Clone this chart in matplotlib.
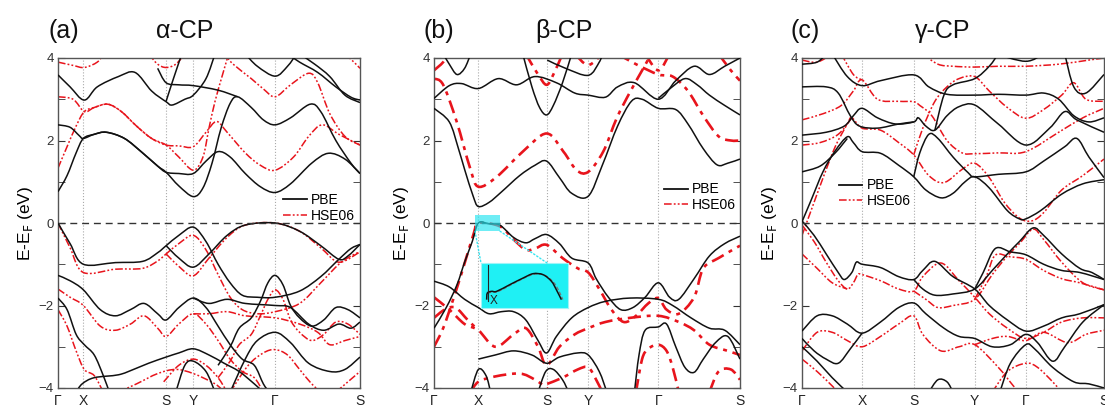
import numpy as np
import matplotlib.pyplot as plt
from matplotlib.patches import Rectangle, ConnectionPatch, PathPatch
from matplotlib.path import Path
from matplotlib.lines import Line2D

plt.rcParams['font.family'] = ['Liberation Sans', 'DejaVu Sans']

# high-symmetry path (fractional distance along the path)
klabels = ['Γ', 'X', 'S', 'Y', 'Γ', 'S']
a_kticks = [0, 0.084, 0.358, 0.448, 0.719, 1.0]
b_kticks = [0, 0.145, 0.368, 0.504, 0.733, 1.0]
c_kticks = [0, 0.199, 0.37, 0.572, 0.741, 1.0]

# ---- alpha-CP ----
a_pbe = [
    [(0, 0.76), (0.03, 1.15), (0.06, 1.7), (0.084, 2.05), (0.12, 2.15), (0.16, 2.2), (0.22, 2.05), (0.28, 1.7),
     (0.33, 1.38), (0.358, 1.23), (0.40, 1.2), (0.448, 1.2), (0.49, 1.5), (0.53, 1.73), (0.57, 1.6), (0.62, 1.2),
     (0.67, 0.88), (0.719, 0.74), (0.77, 0.95), (0.84, 1.45), (0.895, 1.69), (0.95, 1.55), (1.0, 1.2)],
    [(0, 2.38), (0.04, 2.32), (0.07, 2.12), (0.084, 2.05), (0.12, 2.15), (0.16, 2.2), (0.22, 2.05), (0.28, 1.7),
     (0.33, 1.38), (0.358, 1.23), (0.40, 0.9), (0.448, 0.64), (0.48, 0.85), (0.51, 1.45), (0.54, 2.3), (0.57, 2.9),
     (0.595, 3.06), (0.64, 2.8), (0.68, 2.5), (0.719, 2.38), (0.77, 2.55), (0.835, 2.88), (0.87, 2.7), (0.92, 2.0),
     (0.97, 1.45), (1.0, 1.2)],
    [(0, 3.59), (0.04, 3.3), (0.087, 2.98), (0.13, 3.3), (0.2, 3.55), (0.255, 3.65), (0.31, 3.2), (0.358, 2.94),
     (0.378, 2.86), (0.42, 3.0), (0.448, 3.1), (0.49, 3.5), (0.52, 4.1)],
    [(0.358, 2.95), (0.38, 3.45), (0.41, 4.1)],
    [(0.33, 3.75), (0.358, 3.4), (0.40, 3.35), (0.448, 3.33), (0.53, 3.22), (0.595, 3.06)],
    [(0.62, 4.1), (0.66, 3.8), (0.719, 3.56), (0.76, 3.8), (0.79, 4.1)],
    [(0.76, 4.1), (0.8, 3.9), (0.86, 3.65), (0.92, 3.3), (0.97, 3.05), (1.0, 2.98)],
    [(0.8, 4.1), (0.85, 3.85), (0.9, 3.55), (0.95, 3.1), (1.0, 2.92)],
    [(0, 0), (0.04, -0.5), (0.084, -1.0), (0.19, -0.96), (0.28, -0.93), (0.33, -0.72), (0.358, -0.55), (0.40, -0.3),
     (0.448, -0.1), (0.49, -0.45), (0.53, -1.0), (0.57, -1.45), (0.61, -1.75), (0.66, -1.8), (0.719, -1.8),
     (0.8, -1.65), (0.87, -1.3), (0.93, -0.88), (0.97, -0.62), (1.0, -0.52)],
    [(0.358, -0.55), (0.40, -0.85), (0.448, -1.07), (0.50, -0.75), (0.56, -0.3), (0.62, -0.05), (0.719, 0),
     (0.8, -0.2), (0.87, -0.55), (0.93, -0.88), (0.96, -0.8), (1.0, -0.52)],
    [(0, -1.27), (0.04, -1.4), (0.084, -1.62), (0.14, -2.1), (0.19, -2.25), (0.24, -2.1), (0.285, -1.95),
     (0.33, -2.2), (0.358, -2.35), (0.40, -2.05), (0.448, -1.82), (0.49, -2.05), (0.53, -2.5), (0.57, -2.95),
     (0.61, -3.3), (0.65, -3.45), (0.68, -3.9), (0.7, -4.1)],
    [(0.53, -3.45), (0.57, -3.0), (0.6, -2.55), (0.64, -2.3), (0.67, -1.9), (0.695, -1.45), (0.719, -1.27),
     (0.745, -1.5), (0.77, -2.0), (0.8, -2.3), (0.84, -2.5), (0.88, -2.35), (0.92, -2.05), (0.96, -2.1),
     (1.0, -2.3)],
    [(0.448, -1.82), (0.5, -1.95), (0.56, -1.85), (0.62, -1.95), (0.719, -2.0), (0.77, -2.05), (0.83, -2.45),
     (0.88, -2.6), (0.93, -2.45), (0.97, -2.55), (1.0, -2.4)],
    [(0, -1.82), (0.03, -2.1), (0.06, -2.7), (0.087, -2.95), (0.12, -3.2), (0.15, -3.7), (0.17, -4.1)],
    [(0.06, -4.1), (0.08, -3.9), (0.12, -3.75), (0.2, -3.68), (0.25, -3.55), (0.3, -3.4), (0.358, -3.25),
     (0.40, -3.15), (0.448, -3.05), (0.5, -3.2), (0.55, -3.4), (0.6, -3.6), (0.65, -3.9), (0.68, -4.1)],
    [(0.57, -4.1), (0.62, -3.3), (0.66, -2.85), (0.719, -2.65), (0.77, -2.9), (0.83, -3.4), (0.9, -3.6),
     (0.95, -3.55), (1.0, -3.25)],
    [(0.39, -4.1), (0.42, -3.45), (0.448, -3.35), (0.49, -3.6), (0.52, -4.1)],
]
a_hse = [
    [(0, 1.33), (0.03, 1.85), (0.06, 2.35), (0.087, 2.7), (0.12, 2.8), (0.165, 2.88), (0.21, 2.7), (0.26, 2.35),
     (0.31, 2.05), (0.358, 1.89), (0.40, 1.87), (0.448, 1.85), (0.49, 2.2), (0.525, 2.46), (0.56, 2.2), (0.62, 1.7),
     (0.67, 1.4), (0.719, 1.28), (0.78, 1.6), (0.83, 2.1), (0.875, 2.38), (0.93, 2.15), (1.0, 1.89)],
    [(0, 3.06), (0.05, 3.0), (0.087, 2.7), (0.12, 2.8), (0.165, 2.88), (0.21, 2.7), (0.26, 2.35), (0.31, 2.05),
     (0.358, 1.89), (0.40, 1.6), (0.448, 1.28), (0.48, 1.6), (0.5, 2.3), (0.52, 2.95), (0.545, 3.6), (0.565, 4.1)],
    [(0.55, 4.1), (0.58, 3.85), (0.64, 3.5), (0.68, 3.25), (0.719, 3.06), (0.77, 3.35), (0.83, 3.63), (0.86, 3.4),
     (0.9, 2.65), (0.95, 2.1), (1.0, 1.89)],
    [(0, 3.9), (0.05, 3.82), (0.087, 3.77), (0.13, 3.9), (0.15, 4.1)],
    [(0.3, 4.1), (0.33, 3.85), (0.358, 3.77), (0.39, 3.85), (0.42, 4.1)],
    [(0.95, 4.1), (0.98, 3.9), (1.0, 3.75)],
    [(0, 0), (0.04, -0.6), (0.084, -1.2), (0.19, -1.12), (0.28, -1.1), (0.33, -0.92), (0.358, -0.75), (0.40, -0.5),
     (0.448, -0.3), (0.49, -0.65), (0.53, -1.25), (0.57, -1.8), (0.61, -2.1), (0.66, -2.2), (0.719, -2.15),
     (0.8, -1.95), (0.87, -1.45), (0.93, -1.0), (0.97, -0.8), (1.0, -0.7)],
    [(0.358, -0.75), (0.40, -1.05), (0.448, -1.28), (0.50, -0.85), (0.56, -0.35), (0.62, -0.05), (0.719, 0),
     (0.8, -0.2), (0.87, -0.6), (0.93, -0.95), (1.0, -0.7)],
    [(0, -1.6), (0.04, -1.8), (0.084, -2.0), (0.14, -2.5), (0.19, -2.6), (0.24, -2.45), (0.285, -2.25),
     (0.33, -2.55), (0.358, -2.75), (0.40, -2.45), (0.448, -2.2), (0.49, -2.45), (0.53, -2.85), (0.57, -3.3),
     (0.61, -3.6), (0.65, -3.75), (0.68, -4.1)],
    [(0.53, -3.75), (0.57, -3.35), (0.6, -2.95), (0.64, -2.7), (0.67, -2.25), (0.695, -1.85), (0.719, -1.62),
     (0.745, -1.85), (0.77, -2.35), (0.8, -2.65), (0.84, -2.85), (0.88, -2.7), (0.92, -2.4), (0.96, -2.45),
     (1.0, -2.7)],
    [(0.448, -2.2), (0.5, -2.2), (0.56, -2.15), (0.62, -2.25), (0.719, -2.3), (0.8, -2.45), (0.86, -2.65),
     (0.9, -2.95), (0.95, -2.85), (1.0, -2.75)],
    [(0, -2.1), (0.03, -2.5), (0.06, -3.1), (0.087, -3.55), (0.12, -3.7), (0.15, -4.1)],
    [(0.57, -4.1), (0.63, -3.45), (0.68, -3.15), (0.719, -3.07), (0.76, -3.2), (0.8, -3.55), (0.84, -3.9),
     (0.87, -4.1)],
    [(0.35, -3.85), (0.4, -3.45), (0.448, -3.3), (0.49, -3.45), (0.53, -3.75), (0.56, -4.1)],
    [(0.2, -4.1), (0.26, -3.9), (0.33, -3.65), (0.39, -3.55), (0.448, -3.65), (0.52, -3.9), (0.55, -4.1)],
    [(0.92, -4.1), (0.96, -3.85), (1.0, -3.6)],
]

# ---- beta-CP ----
b_pbe = [
    [(0, 2.78), (0.05, 2.45), (0.08, 1.8), (0.1, 1.3), (0.128, 0.65), (0.145, 0.4), (0.18, 0.5), (0.22, 0.75),
     (0.28, 1.15), (0.33, 1.4), (0.368, 1.5), (0.41, 1.1), (0.45, 0.72), (0.504, 0.65), (0.55, 1.4), (0.6, 2.35),
     (0.645, 2.95), (0.68, 3.0), (0.733, 2.78), (0.79, 2.75), (0.83, 2.4), (0.88, 1.8), (0.925, 1.41), (0.96, 1.45),
     (1.0, 1.55)],
    [(0, 3.02), (0.05, 3.33), (0.09, 3.38), (0.145, 3.26), (0.21, 3.5), (0.27, 3.35), (0.33, 3.55), (0.4, 3.4),
     (0.46, 3.15), (0.504, 3.1), (0.56, 3.05), (0.6, 3.3), (0.655, 3.4), (0.733, 3.0), (0.79, 3.45), (0.85, 3.8),
     (0.9, 3.6), (0.95, 3.8), (1.0, 4.0)],
    [(0.29, 4.1), (0.32, 3.3), (0.345, 2.8), (0.368, 2.62), (0.39, 2.85), (0.42, 3.4), (0.45, 4.1)],
    [(0.03, 4.1), (0.05, 3.85), (0.075, 3.6), (0.1, 3.75), (0.12, 4.1)],
    [(0.37, 3.95), (0.43, 3.75), (0.504, 3.58), (0.54, 3.9), (0.55, 4.1)],
    [(0.733, 3.02), (0.77, 3.25), (0.82, 3.5), (0.86, 3.35), (0.9, 3.1), (0.95, 2.85), (1.0, 2.62)],
    [(0, -2.55), (0.04, -2.05), (0.075, -1.5), (0.1, -0.95), (0.125, -0.45), (0.145, 0.0), (0.18, -0.02),
     (0.215, -0.05), (0.26, -0.35), (0.30, -0.48), (0.33, -0.38), (0.368, -0.28), (0.41, -0.5), (0.45, -0.85),
     (0.504, -0.97), (0.53, -1.35), (0.57, -1.8), (0.61, -2.1), (0.65, -2.05), (0.69, -1.8), (0.733, -1.45),
     (0.77, -1.8), (0.80, -1.85), (0.85, -1.35), (0.9, -0.8), (0.95, -0.5), (1.0, -0.32)],
    [(0, -1.41), (0.05, -1.55), (0.1, -1.85), (0.145, -2.05), (0.18, -2.2), (0.22, -2.15), (0.26, -2.15),
     (0.3, -2.35), (0.34, -2.85), (0.368, -3.15), (0.4, -2.75), (0.45, -2.3), (0.504, -2.05), (0.56, -1.9),
     (0.64, -1.82), (0.733, -1.85), (0.78, -2.0), (0.84, -2.3), (0.9, -2.55), (0.95, -2.6), (1.0, -2.95)],
    [(0.655, -4.1), (0.67, -3.2), (0.69, -2.6), (0.733, -2.52), (0.76, -2.45), (0.79, -3.0), (0.82, -3.5),
     (0.85, -3.62), (0.88, -3.3), (0.92, -2.9), (0.96, -2.75), (1.0, -3.3)],
    [(0.12, -4.1), (0.145, -3.55), (0.17, -3.7), (0.185, -4.1)],
    [(0.145, -3.3), (0.2, -3.2), (0.26, -3.1), (0.32, -3.2), (0.368, -3.4), (0.41, -3.25), (0.47, -3.15),
     (0.504, -3.2), (0.54, -3.6), (0.565, -4.1)],
    [(0.34, -4.1), (0.365, -3.6), (0.39, -3.55), (0.42, -3.8), (0.44, -4.1)],
]
b_hse = [
    [(0, 3.5), (0.03, 3.35), (0.074, 2.46), (0.118, 1.33), (0.145, 0.88), (0.205, 1.12), (0.29, 1.73),
     (0.368, 2.17), (0.423, 1.73), (0.466, 1.28), (0.504, 1.24), (0.553, 1.73), (0.597, 2.54), (0.641, 3.18),
     (0.684, 3.75), (0.71, 4.1)],
    [(0.3, 4.1), (0.34, 3.6), (0.368, 3.35), (0.39, 3.6), (0.42, 4.1)],
    [(0.6, 4.1), (0.66, 3.85), (0.733, 3.6), (0.78, 3.55), (0.83, 3.2), (0.88, 2.6), (0.93, 2.1), (0.97, 2.0),
     (1.0, 2.0)],
    [(0.46, 4.1), (0.504, 3.83), (0.55, 4.1)],
    [(0.69, 4.1), (0.733, 3.7), (0.77, 4.1)],
    [(0.93, 4.1), (0.97, 3.7), (1.0, 3.45)],
    [(0, 3.7), (0.03, 3.9), (0.045, 4.1)],
    [(0, -3.0), (0.03, -2.55), (0.065, -1.8), (0.095, -1.1), (0.13, -0.25), (0.145, 0.0), (0.215, -0.08),
     (0.26, -0.4), (0.30, -0.65), (0.33, -0.62), (0.368, -0.53), (0.42, -0.85), (0.47, -1.1), (0.504, -1.2),
     (0.54, -1.6), (0.58, -2.1), (0.62, -2.4), (0.66, -2.25), (0.70, -1.95), (0.733, -1.82), (0.76, -2.1),
     (0.8, -2.2), (0.85, -1.8), (0.88, -1.1), (0.93, -0.85), (1.0, -0.55)],
    [(0, -1.8), (0.05, -2.1), (0.1, -2.45), (0.145, -2.6), (0.2, -3.0), (0.26, -2.7), (0.3, -2.55), (0.34, -3.0),
     (0.368, -3.45), (0.41, -3.0), (0.46, -2.7), (0.504, -2.55), (0.56, -2.4), (0.64, -2.3), (0.733, -2.25),
     (0.8, -2.4), (0.85, -2.6), (0.9, -2.95), (0.96, -3.1), (1.0, -3.2)],
    [(0.66, -4.1), (0.68, -3.3), (0.70, -3.05), (0.733, -2.95), (0.76, -3.1), (0.78, -3.5), (0.8, -4.1)],
    [(0.12, -4.1), (0.145, -3.85), (0.2, -3.72), (0.28, -3.65), (0.33, -3.8), (0.368, -4.0), (0.38, -4.1)],
    [(0.37, -3.9), (0.42, -3.75), (0.47, -3.55), (0.504, -3.5), (0.53, -3.8), (0.55, -4.1)],
    [(0.9, -4.1), (0.93, -3.6), (0.97, -3.55), (1.0, -3.8)],
    [(0, -2.3), (0.035, -2.1), (0.07, -2.05), (0.11, -2.35), (0.145, -2.6)],
]

# zoomed view of the valence band top near X (inset in panel b)
inset_x = [0.065, 0.073, 0.122, 0.18, 0.332, 0.485, 0.6, 0.714, 0.81, 0.866, 0.924]
inset_pbe = [0.185, 0.333, 0.37, 0.37, 0.52, 0.667, 0.763, 0.74, 0.593, 0.407, 0.185]
inset_hse_x = [0.075, 0.13, 0.19, 0.34, 0.49, 0.61, 0.73, 0.83, 0.89, 0.94]
inset_hse = [0.32, 0.36, 0.36, 0.51, 0.66, 0.75, 0.73, 0.58, 0.4, 0.19]

# ---- gamma-CP ----
c_pbe = [
    [(0, 0.03), (0.03, 0.55), (0.07, 1.25), (0.11, 1.75), (0.15, 2.09), (0.17, 1.95), (0.199, 1.73), (0.26, 1.69),
     (0.32, 1.4), (0.37, 1.12), (0.41, 0.8), (0.46, 0.61), (0.5, 0.72), (0.54, 1.0), (0.572, 1.12), (0.62, 0.85),
     (0.68, 0.3), (0.72, 0.1), (0.741, 0.1), (0.79, 0.3), (0.86, 0.7), (0.93, 0.95), (1.0, 1.05)],
    [(0, 2.13), (0.08, 2.2), (0.14, 2.35), (0.17, 2.6), (0.199, 2.78), (0.25, 2.55), (0.31, 2.4), (0.37, 2.45),
     (0.385, 2.55), (0.41, 2.35), (0.44, 2.25), (0.48, 2.6), (0.52, 2.82), (0.572, 2.86), (0.65, 2.4),
     (0.741, 1.89), (0.82, 2.3), (0.87, 2.7), (0.91, 2.5), (1.0, 2.2)],
    [(0, 1.24), (0.06, 1.38), (0.11, 1.7), (0.15, 2.05)],
    [(0.37, 1.12), (0.39, 1.7), (0.42, 2.15), (0.45, 2.05), (0.5, 1.6), (0.55, 1.22), (0.572, 1.12), (0.65, 1.18),
     (0.741, 1.24), (0.8, 1.5), (0.87, 1.85), (0.91, 2.05), (0.95, 1.6), (1.0, 1.1)],
    [(0, 3.3), (0.08, 3.3), (0.12, 3.15), (0.16, 2.6), (0.19, 2.35), (0.25, 2.3), (0.32, 2.4), (0.37, 2.45)],
    [(0.1, 4.1), (0.15, 3.55), (0.199, 3.33), (0.26, 3.45), (0.37, 3.59), (0.42, 3.3), (0.48, 3.12), (0.572, 3.1),
     (0.65, 3.12), (0.741, 3.1), (0.8, 3.15), (0.85, 3.0), (0.9, 2.6), (0.95, 2.45), (1.0, 2.55)],
    [(0, 3.85), (0.05, 3.9), (0.08, 4.1)],
    [(0.87, 4.1), (0.9, 3.3), (0.94, 3.15), (1.0, 3.6)],
    [(0.44, 2.25), (0.47, 3.1), (0.5, 3.35), (0.572, 3.5), (0.62, 3.8), (0.65, 4.1)],
    [(0.64, 4.1), (0.741, 3.92), (0.8, 4.1)],
    [(0, 0.05), (0.04, -0.3), (0.08, -0.75), (0.12, -1.2), (0.14, -1.37), (0.165, -1.2), (0.18, -0.95),
     (0.199, -1.0), (0.26, -1.08), (0.32, -1.3), (0.37, -1.37), (0.40, -1.15), (0.44, -0.93), (0.5, -1.3),
     (0.572, -1.6), (0.62, -2.0), (0.68, -2.35), (0.741, -2.62), (0.8, -2.5), (0.86, -2.3), (0.92, -2.2),
     (1.0, -1.98)],
    [(0.37, -1.37), (0.40, -1.6), (0.44, -1.75), (0.5, -1.72), (0.572, -1.6), (0.63, -1.15), (0.68, -0.75),
     (0.72, -0.45), (0.765, -0.12), (0.8, -0.3), (0.86, -0.75), (0.92, -1.1), (0.96, -1.2), (1.0, -1.37)],
    [(0.572, -1.6), (0.6, -1.2), (0.64, -0.62), (0.69, -0.7), (0.741, -0.77), (0.8, -1.0), (0.86, -1.15),
     (0.92, -1.2), (1.0, -1.37)],
    [(0, -2.62), (0.05, -2.25), (0.1, -2.25), (0.15, -2.45), (0.199, -2.67), (0.26, -2.4), (0.32, -2.05),
     (0.37, -1.94), (0.41, -2.2), (0.47, -2.55), (0.52, -2.75), (0.572, -2.8), (0.63, -3.0), (0.69, -2.95),
     (0.741, -2.7), (0.78, -2.9), (0.83, -3.35), (0.87, -3.0), (0.93, -2.4), (1.0, -1.98)],
    [(0.655, -4.1), (0.69, -3.4), (0.741, -2.95), (0.77, -3.05), (0.83, -3.5), (0.9, -3.85), (0.95, -3.9),
     (1.0, -4.0)],
    [(0, -2.8), (0.04, -3.1), (0.08, -3.3), (0.12, -3.4), (0.16, -3.05), (0.199, -2.67)],
    [(0, -3.0), (0.05, -3.35), (0.1, -3.75), (0.15, -4.1)],
    [(0.42, -4.1), (0.45, -3.8), (0.48, -3.85), (0.5, -4.1)],
]
c_hse = [
    [(0, -0.3), (0.03, 0.3), (0.07, 1.1), (0.11, 1.85), (0.15, 2.4), (0.165, 2.55), (0.199, 2.3), (0.26, 2.25),
     (0.32, 1.95), (0.37, 1.65), (0.42, 1.15), (0.47, 0.98), (0.53, 1.3), (0.572, 1.45), (0.62, 1.1), (0.67, 0.5),
     (0.72, 0.12), (0.76, 0.05), (0.8, 0.25), (0.86, 0.8), (0.93, 1.15), (1.0, 1.55)],
    [(0, 1.89), (0.06, 1.95), (0.12, 2.15), (0.165, 2.55)],
    [(0, 2.5), (0.07, 2.65), (0.13, 2.85), (0.17, 3.2), (0.199, 3.47), (0.25, 3.0), (0.32, 2.95), (0.37, 2.94),
     (0.39, 2.85), (0.43, 2.6), (0.48, 2.0), (0.53, 1.7), (0.572, 1.68), (0.65, 1.7), (0.741, 1.73), (0.85, 2.2),
     (0.93, 2.55), (1.0, 2.78)],
    [(0.37, 1.65), (0.40, 2.3), (0.44, 2.95), (0.48, 3.3), (0.52, 3.5), (0.572, 3.55), (0.62, 3.2), (0.68, 2.8),
     (0.741, 2.54), (0.8, 2.75), (0.86, 3.1), (0.9, 3.4), (0.94, 3.0), (1.0, 2.95)],
    [(0, 3.95), (0.05, 3.9), (0.1, 4.1)],
    [(0.4, 4.1), (0.45, 3.85), (0.5, 3.8), (0.572, 3.78), (0.65, 3.8), (0.741, 3.8), (0.85, 3.85), (0.95, 3.95),
     (1.0, 4.0)],
    [(0.13, 4.1), (0.17, 3.6), (0.199, 3.47)],
    [(0, -0.05), (0.04, -0.45), (0.08, -0.95), (0.12, -1.4), (0.15, -1.6), (0.17, -1.45), (0.185, -1.25),
     (0.199, -1.25), (0.26, -1.4), (0.32, -1.6), (0.37, -1.65), (0.40, -1.3), (0.46, -0.97), (0.52, -1.4),
     (0.572, -1.8), (0.62, -2.2), (0.68, -2.55), (0.741, -2.8), (0.8, -2.65), (0.86, -2.4), (0.93, -2.3),
     (1.0, -2.3)],
    [(0.37, -1.65), (0.41, -1.85), (0.45, -2.05), (0.5, -2.0), (0.572, -1.85), (0.63, -1.25), (0.68, -0.8),
     (0.72, -0.5), (0.765, -0.15), (0.8, -0.4), (0.86, -0.95), (0.93, -1.45), (1.0, -1.62)],
    [(0, -0.75), (0.05, -1.1), (0.1, -1.45), (0.15, -1.6)],
    [(0.572, -1.85), (0.61, -1.3), (0.64, -0.78), (0.69, -0.82), (0.741, -0.88), (0.8, -1.15), (0.86, -1.35),
     (0.92, -1.45), (1.0, -1.62)],
    [(0, -3.1), (0.05, -2.65), (0.1, -2.65), (0.15, -2.85), (0.199, -3.0), (0.26, -2.75), (0.32, -2.45),
     (0.37, -2.25), (0.4, -2.7), (0.46, -3.1), (0.52, -3.0), (0.572, -2.95), (0.65, -3.5), (0.7, -3.95),
     (0.72, -4.1)],
    [(0.63, -4.1), (0.68, -3.6), (0.741, -3.4), (0.78, -3.5), (0.83, -3.85), (0.86, -4.1)],
    [(0.572, -2.95), (0.63, -2.8), (0.68, -2.75), (0.741, -2.85), (0.8, -2.65), (0.88, -2.9), (0.94, -2.7),
     (1.0, -2.6)],
    [(0, -3.3), (0.05, -3.6), (0.1, -3.95), (0.12, -4.1)],
]

red = '#e8141c'
thin_dash = (0, (5, 1.4, 1.2, 1.4, 1.2, 1.4))
thick_dash = (0, (5, 2.2, 1.5, 2.2))


def band_path(band):
    # cubic segments through the band points (Catmull-Rom tangents)
    p = np.array(band, dtype=float)
    verts = [p[0]]
    codes = [Path.MOVETO]
    n = len(p)
    for i in range(n - 1):
        p0 = p[i - 1] if i > 0 else p[i]
        p3 = p[i + 2] if i + 2 < n else p[i + 1]
        c1 = p[i] + (p[i + 1] - p0) / 6
        c2 = p[i + 1] - (p3 - p[i]) / 6
        verts += [c1, c2, p[i + 1]]
        codes += [Path.CURVE4] * 3
    return Path(verts, codes)


def draw_panel(ax, kticks, pbe, hse, hse_lw, hse_ls):
    for xv in kticks[1:-1]:
        ax.axvline(xv, color='#aaaaaa', ls=':', lw=0.8, zorder=0)
    for band in hse:
        ax.add_patch(PathPatch(band_path(band), fill=False, edgecolor=red, lw=hse_lw, ls=hse_ls, zorder=2))
    for band in pbe:
        ax.add_patch(PathPatch(band_path(band), fill=False, edgecolor='#111111', lw=1.1, zorder=3))
    ax.axhline(0, color='#333333', ls=(0, (5, 3.5)), lw=1.0, zorder=4)
    ax.set_xlim(0, 1)
    ax.set_ylim(-4, 4)
    ax.set_xticks(kticks)
    ax.set_xticklabels(klabels)
    ax.set_yticks([-4, -2, 0, 2, 4])
    ax.set_yticks([-3, -1, 1, 3], minor=True)
    ax.tick_params(axis='y', which='both', direction='in', right=True, labelsize=9.5, colors='#333333', pad=3,
                   length=5)
    ax.tick_params(axis='x', length=0, labelsize=10, pad=4, colors='#222222')
    ax.set_ylabel(r'E-E$_\mathrm{F}$ (eV)', fontsize=12.5, labelpad=3)
    for s in ax.spines.values():
        s.set_color('#555555')
        s.set_linewidth(1.0)


fig = plt.figure(figsize=(11.05, 4.08), dpi=100)
W, H = 1105, 408
ax_a = fig.add_axes([58 / W, 20 / H, 302 / W, 330 / H])
ax_b = fig.add_axes([434 / W, 20 / H, 306 / W, 330 / H])
ax_c = fig.add_axes([802 / W, 20 / H, 302 / W, 330 / H])

draw_panel(ax_a, a_kticks, a_pbe, a_hse, 1.1, thin_dash)
draw_panel(ax_b, b_kticks, b_pbe, b_hse, 1.9, thick_dash)
draw_panel(ax_c, c_kticks, c_pbe, c_hse, 1.1, thin_dash)

handles = [Line2D([], [], color='#111111', lw=1.3),
           Line2D([], [], color=red, lw=1.1, ls=thin_dash)]
for ax, anchor in [(ax_a, (0.745, 0.59)), (ax_b, (0.752, 0.623)), (ax_c, (0.122, 0.635))]:
    ax.legend(handles, ['PBE', 'HSE06'], loc='upper left', bbox_to_anchor=anchor, frameon=False,
              fontsize=10, handlelength=1.7, handletextpad=0.3, labelspacing=0.12,
              borderpad=0, borderaxespad=0)

# panel labels and titles
for x, txt in [(64, '(a)'), (185, 'α-CP'), (439, '(b)'), (564, 'β-CP'), (805, '(c)'), (943, 'γ-CP')]:
    fig.text(x / W, 1 - 31 / H, txt, fontsize=18, ha='center', va='center', color='#111111')

# highlight of the valence band maximum at X and its magnified view
ax_b.add_patch(Rectangle((0.134, -0.2), 0.082, 0.4, facecolor='#22e4f0', alpha=0.65,
                         edgecolor='none', zorder=5))
axin = fig.add_axes([481 / W, 100 / H, 87 / W, 45 / H])
axin.set_facecolor('#1ff0f4')
axin.add_patch(PathPatch(band_path(list(zip(inset_hse_x, inset_hse))), fill=False, edgecolor='#777777',
                         lw=0.9, ls=(0, (3, 1.5))))
axin.add_patch(PathPatch(band_path(list(zip(inset_x, inset_pbe))), fill=False, edgecolor='#111111', lw=1.1))
axin.plot([0.084, 0.084], [0.15, 0.96], color='#222222', lw=0.8)
axin.text(0.1, 0.02, 'X', fontsize=8.5, color='#222222', va='bottom')
axin.set_xlim(0, 1)
axin.set_ylim(0, 1)
axin.set_xticks([])
axin.set_yticks([])
for s in axin.spines.values():
    s.set_color('#9ff4f8')
    s.set_linewidth(0.8)
for xa, xb in [(0.134, 0.0), (0.216, 0.76)]:
    con = ConnectionPatch(xyA=(xa, -0.2), coordsA=ax_b.transData, xyB=(xb, 1.0), coordsB=axin.transAxes,
                          color='#33e4f0', ls=':', lw=1.0)
    fig.add_artist(con)

fig.savefig('out.png', dpi=100)
